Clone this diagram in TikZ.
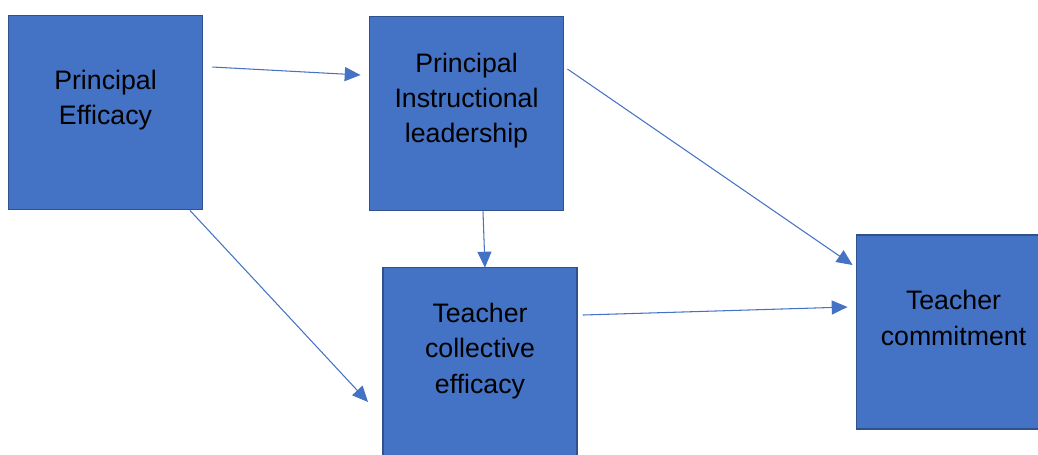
\documentclass[tikz,border=0pt]{standalone}
\usepackage{fontspec}
\setmainfont{Liberation Sans}
\usetikzlibrary{arrows.meta}

\definecolor{boxblue}{HTML}{4472C4}
\definecolor{boxedge}{HTML}{2F528F}

\begin{document}
\begin{tikzpicture}[x=0.02cm,y=-0.02cm,
		box/.style={draw=boxedge,fill=boxblue,line width=1.1pt,minimum width=3.88cm,minimum height=3.88cm,inner sep=0pt},
		txt/.style={align=center,font=\fontsize{15.2}{20}\selectfont},
		link/.style={draw=boxblue,line width=0.6pt,-{Triangle[length=9pt,width=8pt]}}]
			\clip (0,0) rectangle (1038,454);
			
			\node[box] (pe) at (105.5,112.5) {};
			\node[box] (pil) at (466.5,113.5) {};
			\node[box] (tce) at (480,364.5) {};
			\node[box] (tc) at (953.5,332) {};
			
			\node[txt] at ([yshift=0.25cm]pe.center) {Principal\\Efficacy};
			\node[txt] at ([yshift=0.26cm]pil.center) {Principal\\Instructional\\leadership};
			\node[txt] at ([yshift=0.27cm]tce.center) {Teacher\\collective\\efficacy};
			\node[txt] at ([yshift=0.28cm]tc.center) {Teacher\\commitment};
			
			\draw[link] ([xshift=0.18cm,yshift=0.91cm]pe.east) -- ([xshift=-0.16cm,yshift=0.77cm]pil.west);
			\draw[link] ([xshift=0.06cm,yshift=0.89cm]pil.east) -- ([xshift=-0.06cm,yshift=1.34cm]tc.west);
			\draw[link] ([xshift=0.33cm]pil.south) -- ([xshift=0.1cm,yshift=-0.02cm]tce.north);
			\draw[link] ([xshift=1.69cm]pe.south) -- ([xshift=-0.28cm,yshift=-0.75cm]tce.west);
			\draw[link] ([xshift=0.1cm,yshift=0.99cm]tce.east) -- ([xshift=-0.16cm,yshift=0.5cm]tc.west);
		  \end{tikzpicture}
\end{document}
